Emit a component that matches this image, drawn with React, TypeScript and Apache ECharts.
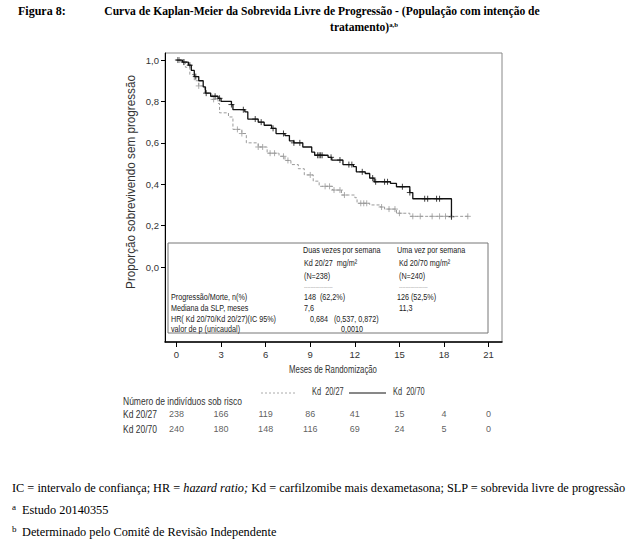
import React, { useEffect, useRef } from "react";
import * as echarts from "echarts";

// ---- data ----
const monthTicks = [0, 3, 6, 9, 12, 15, 18, 21];
const survTicks = [0, 0.2, 0.4, 0.6, 0.8, 1.0];

// Kaplan-Meier steps: [month, survival after the step]
const kd2027Steps: [number, number][] = [
  [0, 1.0], [0.3, 0.99], [0.6, 0.965], [0.9, 0.93], [1.2, 0.9], [1.5, 0.875],
  [1.9, 0.84], [2.4, 0.81], [2.8, 0.79], [2.9, 0.745], [3.5, 0.725], [3.8, 0.665],
  [4.4, 0.645], [4.7, 0.6], [5.5, 0.58], [6.1, 0.55], [6.9, 0.535], [7.3, 0.515],
  [7.7, 0.495], [8.2, 0.475], [8.6, 0.445], [9.2, 0.415], [9.6, 0.39], [10.5, 0.372],
  [11.1, 0.348], [12.0, 0.335], [12.15, 0.308], [13.0, 0.3], [13.7, 0.29], [14.0, 0.28],
  [14.8, 0.26], [15.7, 0.245],
];
const kd2027End = 19.6;
const kd2070Steps: [number, number][] = [
  [0, 1.0], [0.4, 0.99], [0.8, 0.975], [1.0, 0.95], [1.2, 0.92], [1.5, 0.9],
  [1.8, 0.87], [1.95, 0.84], [2.3, 0.825], [2.8, 0.815], [3.0, 0.8], [3.7, 0.785],
  [3.8, 0.76], [4.6, 0.75], [4.8, 0.715], [5.5, 0.7], [5.9, 0.685], [6.4, 0.67],
  [6.7, 0.645], [7.3, 0.635], [7.6, 0.61], [7.9, 0.6], [8.5, 0.58], [9.1, 0.555],
  [9.3, 0.54], [10.2, 0.53], [10.45, 0.517], [11.2, 0.495], [11.9, 0.485], [12.1, 0.46],
  [12.7, 0.452], [13.0, 0.43], [13.3, 0.412], [14.4, 0.404], [14.8, 0.388], [15.7, 0.36],
  [15.9, 0.33], [18.5, 0.243],
];
const kd2070End = 18.5;

// censored observations (months)
const kd2027Censor = [0.2, 0.5, 1.5, 2.5, 4.1, 4.4, 5.5, 5.8, 6.3, 6.6, 7.2, 7.5, 9.0, 10.0,
  10.3, 10.6, 11.0, 11.3, 12.4, 12.6, 12.8, 13.8, 14.3, 14.7, 15.0, 15.9, 16.4, 17.2, 17.7,
  18.1, 18.5, 19.6];
const kd2070Censor = [0.1, 0.5, 0.9, 1.3, 2.0, 2.6, 2.9, 3.7, 4.5, 5.3, 5.7, 6.5, 7.2, 7.9,
  8.3, 9.5, 9.6, 9.7, 9.8, 10.4, 11.0, 11.6, 11.8, 12.5, 13.2, 13.4, 14.0, 14.2, 15.2,
  15.7, 16.7, 16.9, 17.5, 17.7, 18.5];

// numbers at risk
const riskRows = ["Kd 20/27", "Kd 20/70"];
const riskKd2027 = [238, 166, 119, 86, 41, 15, 4, 0];
const riskKd2070 = [240, 180, 148, 116, 69, 24, 5, 0];

const SANS = "'Liberation Sans', Arial, sans-serif";
const SERIF = "'Liberation Serif', 'Times New Roman', serif";

function stepPoints(steps: [number, number][], end: number) {
  const pts: [number, number][] = [];
  steps.forEach(([t, s], i) => {
    if (i > 0) pts.push([t, steps[i - 1][1]]);
    pts.push([t, s]);
  });
  pts.push([end, steps[steps.length - 1][1]]);
  return pts;
}
function survAt(steps: [number, number][], t: number) {
  let v = steps[0][1];
  for (const [m, s] of steps) if (m <= t) v = s;
  return v;
}

const PLUS = "path://M0,5L10,5M5,0L5,10";

export default function App() {
  const ref = useRef<HTMLDivElement>(null);
  useEffect(() => {
    if (!ref.current) return;
    const chart = echarts.init(ref.current, null, { renderer: "svg" });
    const txt = (x: number, y: number, text: string, font: string, extra: any = {}, sx = 1) => ({
      type: "text", x, y, scaleX: sx,
      style: { text, font, fill: "#222", textAlign: "left", textVerticalAlign: "middle", ...extra },
    });
    const boxFont = `9px ${SANS}`;
    const BS = 0.8;
    const dark = "#333";
    const option: any = {
      animation: false,
      grid: [
        { left: 165, right: 132, top: 53, height: 289, show: true, borderColor: "#888", borderWidth: 1 },
        { left: 165, right: 132, top: 406, height: 30 },
      ],
      xAxis: [
        {
          type: "value", gridIndex: 0, min: -0.77, max: 21.9,
          axisLine: { show: true, onZero: false, lineStyle: { color: "#000", width: 1.5 } },
          axisTick: { show: true, customValues: monthTicks, length: 5, lineStyle: { color: "#000" } },
          axisLabel: { customValues: monthTicks, fontSize: 9.5, color: dark, margin: 7, fontFamily: SANS },
          splitLine: { show: false },
        },
        { type: "value", gridIndex: 1, min: -0.77, max: 21.9, show: false },
      ],
      yAxis: [
        {
          type: "value", gridIndex: 0, min: -0.362, max: 1.034,
          axisLine: { show: true, onZero: false, lineStyle: { color: "#000" } },
          axisTick: { show: true, customValues: survTicks, length: 4, lineStyle: { color: "#000" } },
          axisLabel: {
            customValues: survTicks, fontSize: 9.5, color: dark, margin: 6, fontFamily: SANS,
            formatter: (v: number) => v.toFixed(1).replace(".", ","),
          },
          splitLine: { show: false },
        },
        { type: "category", gridIndex: 1, data: [riskRows[1], riskRows[0]], show: false },
      ],
      series: [
        {
          type: "line", name: "Kd 20/27", data: stepPoints(kd2027Steps, kd2027End),
          showSymbol: false, symbol: "none",
          lineStyle: { color: "#9a9a9a", width: 1, type: [3, 2] },
        },
        {
          type: "line", name: "Kd 20/70", data: stepPoints(kd2070Steps, kd2070End),
          showSymbol: false, symbol: "none",
          lineStyle: { color: "#111", width: 1.3 },
        },
        {
          type: "scatter", data: kd2027Censor.map((c) => [c, survAt(kd2027Steps, c)]),
          symbol: PLUS, symbolSize: 6,
          itemStyle: { color: "none", borderColor: "#999", borderWidth: 1 },
        },
        {
          type: "scatter", data: kd2070Censor.map((c) => [c, survAt(kd2070Steps, c)]),
          symbol: PLUS, symbolSize: 6,
          itemStyle: { color: "none", borderColor: "#111", borderWidth: 1 },
        },
        {
          type: "scatter", xAxisIndex: 1, yAxisIndex: 1, symbolSize: 1,
          itemStyle: { color: "transparent" },
          data: monthTicks.map((m, i) => [m, riskRows[0], riskKd2027[i]]),
          label: { show: true, position: "inside", formatter: (p: any) => String(p.value[2]), fontSize: 9, color: dark, fontFamily: SANS },
        },
        {
          type: "scatter", xAxisIndex: 1, yAxisIndex: 1, symbolSize: 1,
          itemStyle: { color: "transparent" },
          data: monthTicks.map((m, i) => [m, riskRows[1], riskKd2070[i]]),
          label: { show: true, position: "inside", formatter: (p: any) => String(p.value[2]), fontSize: 9, color: dark, fontFamily: SANS },
        },
      ],
      graphic: [
        // title
        txt(18, 11, "Figura 8:", `bold 12px ${SERIF}`, { fill: "#000" }),
        txt(322, 11, "Curva de Kaplan-Meier da Sobrevida Livre de Progressão - (População com intenção de", `bold 12px ${SERIF}`, { fill: "#000", textAlign: "center" }, 0.965),
        {
          type: "text", x: 364, y: 27, scaleX: 0.965,
          style: {
            text: "{m|tratamento)}{s|a,b}", textAlign: "center", textVerticalAlign: "middle", fill: "#000",
            rich: {
              m: { font: `bold 12px ${SERIF}`, fill: "#000" },
              s: { font: `bold 7px ${SERIF}`, fill: "#000", verticalAlign: "top", padding: [0, 0, 6, 0] },
            },
          },
        },
        // y axis name
        {
          type: "text", x: 131, y: 182, rotation: Math.PI / 2, scaleX: 0.9,
          style: { text: "Proporção sobrevivendo sem progressão", font: `13px ${SANS}`, fill: dark, textAlign: "center", textVerticalAlign: "middle" },
        },
        // x axis name
        txt(333, 370, "Meses de Randomização", `10px ${SANS}`, { fill: dark, textAlign: "center" }, 0.78),
        // summary box
        { type: "rect", shape: { x: 168, y: 243, width: 320, height: 90 }, style: { fill: "#fff", stroke: "#777", lineWidth: 1 } },
        txt(303, 250, "Duas vezes por semana", boxFont, {}, BS),
        txt(304, 263, "Kd 20/27  mg/m²", boxFont, {}, BS),
        txt(304, 276, "(N=238)", boxFont, {}, BS),
        txt(304, 287, "------------------", `6px ${SANS}`, { fill: "#888" }, BS),
        txt(397, 250, "Uma vez por semana", boxFont, {}, BS),
        txt(399, 263, "Kd 20/70 mg/m²", boxFont, {}, BS),
        txt(399, 276, "(N=240)", boxFont, {}, BS),
        txt(399, 287, "------------------", `6px ${SANS}`, { fill: "#888" }, BS),
        txt(171, 297, "Progressão/Morte, n(%)", boxFont, {}, BS),
        txt(304, 297, "148  (62,2%)", boxFont, {}, BS),
        txt(397, 297, "126 (52,5%)", boxFont, {}, BS),
        txt(171, 308, "Mediana da SLP, meses", boxFont, {}, BS),
        txt(304, 308, "7,6", boxFont, {}, BS),
        txt(399, 308, "11,3", boxFont, {}, BS),
        txt(171, 319, "HR( Kd 20/70/Kd 20/27)(IC 95%)", boxFont, {}, BS),
        txt(310, 319, "0,684   (0,537, 0,872)", boxFont, {}, BS),
        txt(171, 329, "valor de p (unicaudal)", boxFont, {}, BS),
        txt(341, 329, "0,0010", boxFont, {}, BS),
        // legend
        { type: "line", shape: { x1: 261, y1: 393, x2: 295, y2: 393 }, style: { stroke: "#aaa", lineWidth: 1, lineDash: [2, 2] } },
        txt(312, 392, "Kd  20/27", `10px ${SANS}`, { fill: dark }, 0.74),
        { type: "line", shape: { x1: 349, y1: 393, x2: 386, y2: 393 }, style: { stroke: "#111", lineWidth: 1 } },
        txt(393, 392, "Kd  20/70", `10px ${SANS}`, { fill: dark }, 0.74),
        // risk table
        txt(123, 402, "Número de indivíduos sob risco", `10px ${SANS}`, { fill: dark }, 0.85),
        txt(123, 415, riskRows[0], `10px ${SANS}`, { fill: dark }, 0.85),
        txt(123, 430, riskRows[1], `10px ${SANS}`, { fill: dark }, 0.85),
        // footnotes
        {
          type: "text", x: 12, y: 488,
          style: {
            text: "{n|IC = intervalo de confiança; HR = }{i|hazard ratio;}{n| Kd = carfilzomibe mais dexametasona; SLP = sobrevida livre de progressão}",
            textVerticalAlign: "middle", fill: "#000",
            rich: { n: { font: `12.3px ${SERIF}`, fill: "#000" }, i: { font: `italic 12.3px ${SERIF}`, fill: "#000" } },
          },
        },
        txt(12, 507, "a", `9px ${SERIF}`, { fill: "#000" }),
        txt(22, 510, "Estudo 20140355", `12.3px ${SERIF}`, { fill: "#000" }),
        txt(12, 529, "b", `9px ${SERIF}`, { fill: "#000" }),
        txt(22, 532, "Determinado pelo Comitê de Revisão Independente", `12.3px ${SERIF}`, { fill: "#000" }),
      ],
    };
    chart.setOption(option);
    return () => chart.dispose();
  }, []);
  return <div ref={ref} style={{ width: 634, height: 543, position: "absolute", left: 0, top: 0, background: "#fff" }} />;
}
